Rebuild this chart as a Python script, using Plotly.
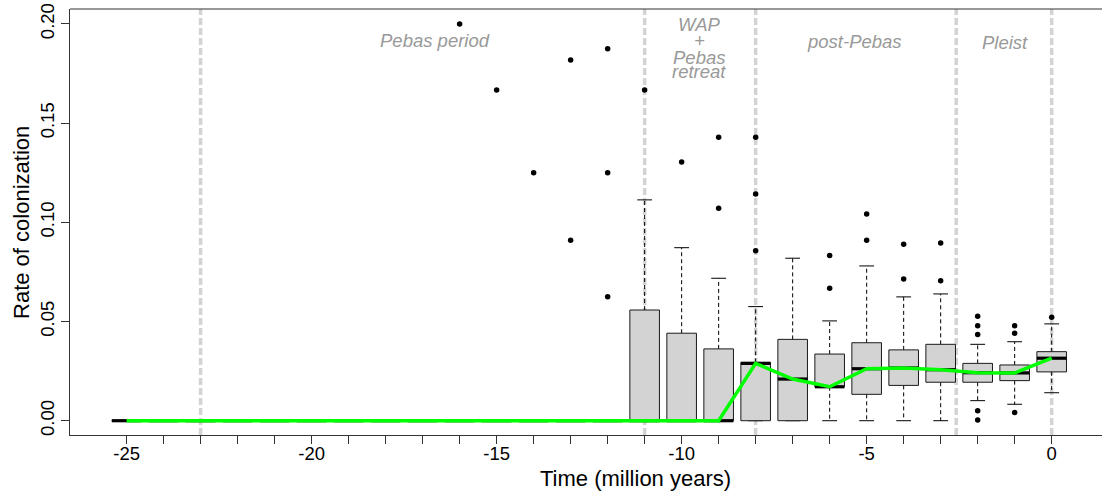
import plotly.graph_objects as go

# Time bins (million years) and per-bin summary statistics of colonization rate
times = [-25, -24, -23, -22, -21, -20, -19, -18, -17, -16, -15, -14, -13, -12,
         -11, -10, -9, -8, -7, -6, -5, -4, -3, -2, -1, 0]
q1 = [0, 0, 0, 0, 0, 0, 0, 0, 0, 0, 0, 0, 0, 0,
      0, 0, 0, 0, 0, 0.0171, 0.0133, 0.0178, 0.0194, 0.0194, 0.0202, 0.0246]
median = [0, 0, 0, 0, 0, 0, 0, 0, 0, 0, 0, 0, 0, 0,
          0, 0, 0, 0.0289, 0.0210, 0.0171, 0.0262, 0.0266, 0.0257, 0.0242, 0.0241, 0.0315]
q3 = [0, 0, 0, 0, 0, 0, 0, 0, 0, 0, 0, 0, 0, 0,
      0.0558, 0.0441, 0.0362, 0.0294, 0.0410, 0.0336, 0.0393, 0.0357, 0.0385, 0.0289, 0.0281, 0.0348]
lower_whisker = [0, 0, 0, 0, 0, 0, 0, 0, 0, 0, 0, 0, 0, 0,
                 0, 0, 0, 0, 0, 0, 0, 0, 0, 0.0101, 0.0083, 0.0141]
upper_whisker = [0, 0, 0, 0, 0, 0, 0, 0, 0, 0, 0, 0, 0, 0,
                 0.1113, 0.0872, 0.0718, 0.0575, 0.0819, 0.0503, 0.0780, 0.0624, 0.0639, 0.0385, 0.0398, 0.0488]

# Outlying values
outlier_time = [-16, -15, -14, -13, -13, -12, -12, -12, -11, -10, -9, -9,
                -8, -8, -8, -6, -6, -5, -5, -4, -4, -3, -3,
                -2, -2, -2, -2, -2, -1, -1, -1, 0]
outlier_rate = [0.2000, 0.1667, 0.1250, 0.1818, 0.0909, 0.1875, 0.1250, 0.0625, 0.1667, 0.1304, 0.1429, 0.1071,
                0.1429, 0.1143, 0.0857, 0.0833, 0.0667, 0.1042, 0.0909, 0.0889, 0.0714, 0.0896, 0.0706,
                0.0526, 0.0479, 0.0435, 0.0050, 0.0004, 0.0479, 0.0441, 0.0042, 0.0521]

# Period boundaries and labels
boundaries = [-23, -11, -8, -2.58, 0]
period_labels = ["Pebas period", "WAP", "+", "Pebas", "retreat", "post-Pebas", "Pleist"]
period_label_x = [-16.67, -9.53, -9.53, -9.53, -9.53, -5.34, -1.27]
period_label_y = [0.1915, 0.1998, 0.1918, 0.1833, 0.1758, 0.1910, 0.1905]

x_ticks = times
x_ticklabels = ["-25", "", "", "", "", "-20", "", "", "", "", "-15", "", "", "", "",
                "-10", "", "", "", "", "-5", "", "", "", "", "0"]
y_ticks = [0, 0.05, 0.10, 0.15, 0.20]
y_ticklabels = ["0.00", "0.05", "0.10", "0.15", "0.20"]

HALF = 0.4   # half box width
CAP = 0.2    # half staple width
FONT = "Liberation Sans, Arial, Helvetica, sans-serif"

bx, by, wx, wy, cx, cy, mx, my = [], [], [], [], [], [], [], []
for t, a, m, b, lo, hi in zip(times, q1, median, q3, lower_whisker, upper_whisker):
    bx += [t - HALF, t + HALF, t + HALF, t - HALF, t - HALF, None]
    by += [a, a, b, b, a, None]
    wx += [t, t, None, t, t, None]
    wy += [b, hi, None, a, lo, None]
    cx += [t - CAP, t + CAP, None, t - CAP, t + CAP, None]
    cy += [hi, hi, None, lo, lo, None]
    mx += [t - HALF, t + HALF, None]
    my += [m, m, None]

fig = go.Figure()
fig.add_trace(go.Scatter(x=wx, y=wy, mode="lines",
                         line=dict(color="black", width=1, dash="4px,3px"),
                         hoverinfo="skip", showlegend=False))
fig.add_trace(go.Scatter(x=cx, y=cy, mode="lines",
                         line=dict(color="black", width=1),
                         hoverinfo="skip", showlegend=False))
fig.add_trace(go.Scatter(x=bx, y=by, mode="lines", fill="toself",
                         fillcolor="#d3d3d3", line=dict(color="#1a1a1a", width=1),
                         hoverinfo="skip", showlegend=False))
fig.add_trace(go.Scatter(x=mx, y=my, mode="lines",
                         line=dict(color="black", width=3.2),
                         hoverinfo="skip", showlegend=False))
fig.add_trace(go.Scatter(x=outlier_time, y=outlier_rate, mode="markers",
                         marker=dict(color="black", size=5.5, symbol="circle"),
                         showlegend=False))
fig.add_trace(go.Scatter(x=times, y=median, mode="lines",
                         line=dict(color="#00ff00", width=3.5),
                         showlegend=False))

for b in boundaries:
    fig.add_shape(type="line", xref="x", yref="paper", x0=b, x1=b, y0=0, y1=1,
                  line=dict(color="#d3d3d3", width=3.5, dash="7px,3px"), layer="below")

# top frame line
fig.add_shape(type="line", xref="paper", yref="paper", x0=0, x1=1, y0=1, y1=1,
              line=dict(color="#333333", width=1))

for txt, x, y in zip(period_labels, period_label_x, period_label_y):
    fig.add_annotation(x=x, y=y, xref="x", yref="y", text=f"<i>{txt}</i>",
                       showarrow=False, xanchor="center", yanchor="middle",
                       font=dict(family=FONT, size=18.5, color="#999999"))

fig.add_annotation(x=0.5484, y=-0.101, xref="paper", yref="paper",
                   text="Time (million years)", showarrow=False,
                   xanchor="center", yanchor="middle",
                   font=dict(family=FONT, size=22, color="black"))
fig.add_annotation(x=-0.0475, y=0.5, xref="paper", yref="paper",
                   text="Rate of colonization", showarrow=False, textangle=-90,
                   xanchor="center", yanchor="middle",
                   font=dict(family=FONT, size=22, color="black"))

fig.update_layout(
    width=1102, height=494,
    margin=dict(l=70, r=0, t=9, b=59),
    plot_bgcolor="white", paper_bgcolor="white",
    font=dict(family=FONT, color="black"),
    xaxis=dict(range=[-26.53, 1.36], showgrid=False, zeroline=False,
               showline=True, linecolor="#333333", linewidth=1,
               ticks="outside", ticklen=8, tickwidth=1, tickcolor="#333333",
               tickvals=x_ticks, ticktext=x_ticklabels, ticklabelstandoff=-6,
               tickfont=dict(family=FONT, size=18.5, color="black")),
    yaxis=dict(range=[-0.0072, 0.2075], showgrid=False, zeroline=False,
               showline=True, linecolor="#333333", linewidth=1,
               ticks="outside", ticklen=8, tickwidth=1, tickcolor="#333333",
               tickvals=y_ticks, ticktext=y_ticklabels, tickangle=-90,
               tickfont=dict(family=FONT, size=18.5, color="black")),
)

fig.write_html("out.html")
